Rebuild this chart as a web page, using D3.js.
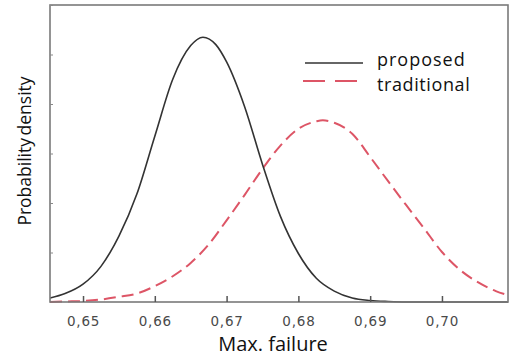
<!DOCTYPE html>
<html><head><meta charset="utf-8">
<script src="https://cdn.jsdelivr.net/npm/d3@7"></script>
<style>body{margin:0;background:#fff;}svg{display:block;}</style>
</head><body>
<svg id="chart" width="510" height="356"></svg>
<script>
const seriesNames = ["proposed", "traditional"];
const proposedX = [0.6454,0.6475,0.650,0.6525,0.655,0.6575,0.660,0.6625,0.665,0.6667,0.6685,0.670,0.6725,0.675,0.6775,0.680,0.6825,0.685,0.6875,0.690,0.6925,0.695,0.7092];
const proposedY = [0.8,1.7,3.6,7.2,13.3,21.8,33.5,45.0,51.8,53.5,52.0,48.5,39.5,27.8,17.3,9.8,4.8,2.2,0.8,0.3,0.1,0,0];
const traditionalX = [0.6454,0.6475,0.650,0.6525,0.655,0.6575,0.660,0.6625,0.665,0.6675,0.670,0.6725,0.675,0.6775,0.680,0.6825,0.6834,0.685,0.6875,0.690,0.6925,0.695,0.6975,0.700,0.7025,0.705,0.7075,0.7092];
const traditionalY = [0,0.1,0.2,0.5,1.05,1.7,3.2,5.2,7.9,11.6,16.5,21.6,26.9,31.6,35.0,36.5,36.7,36.2,34.0,29.3,24.4,19.6,14.9,10.1,6.5,4.0,2.2,1.4];
const xTicks = [0.65,0.66,0.67,0.68,0.69,0.70];
const xTickLabels = ["0,65","0,66","0,67","0,68","0,69","0,70"];
const yTicks = [10,20,30,40,50,60];
const xDomain = [0.6454, 0.7092];
const yDomain = [0, 60];

const svg = d3.select("#chart");
const L = 50, R = 508, T = 5, B = 302;
const x = d3.scaleLinear().domain(xDomain).range([L, R]);
const y = d3.scaleLinear().domain(yDomain).range([B, T]);

const line = d3.line().x(d => x(d[0])).y(d => y(d[1])).curve(d3.curveMonotoneX);
svg.append("clipPath").attr("id","clip").append("rect")
  .attr("x", L).attr("y", T).attr("width", R - L).attr("height", B - T + 2);

const g = svg.append("g").attr("clip-path","url(#clip)");
g.append("path").datum(traditionalX.map((v,i)=>[v,traditionalY[i]]))
  .attr("d", line).attr("fill","none").attr("stroke","#dd5566")
  .attr("stroke-width",2).attr("stroke-dasharray","12,6");
g.append("path").datum(proposedX.map((v,i)=>[v,proposedY[i]]))
  .attr("d", line).attr("fill","none").attr("stroke","#333")
  .attr("stroke-width",1.6);

// frame
svg.append("rect").attr("x", L).attr("y", T).attr("width", R - L).attr("height", B - T)
  .attr("fill","none").attr("stroke","#7a7a7a").attr("stroke-width",1.6);

// x axis
const xAxis = d3.axisBottom(x).tickValues(xTicks).tickSize(-6)
  .tickFormat((d,i) => xTickLabels[i]).tickPadding(14);
const xg = svg.append("g").attr("transform",`translate(0,${B})`).call(xAxis);
xg.select(".domain").remove();
xg.selectAll(".tick line").attr("stroke","#555").attr("stroke-width",1.5);
xg.selectAll(".tick text").attr("font-family","DejaVu Sans").attr("font-size",13.5)
  .attr("fill","#4a4a4a").attr("letter-spacing","0.8px");

// y axis
const yAxis = d3.axisLeft(y).tickValues(yTicks).tickSize(-3).tickFormat("");
const yg = svg.append("g").attr("transform",`translate(${L},0)`).call(yAxis);
yg.select(".domain").remove();
yg.selectAll(".tick line").attr("stroke","#888").attr("stroke-width",1);

// labels
svg.append("text").attr("x", 273).attr("y", 351).attr("text-anchor","middle")
  .attr("font-family","Open Sans").attr("font-size",20).attr("fill","#111").text("Max. failure");
svg.append("text").attr("transform","translate(31,151) rotate(-90)").attr("text-anchor","middle")
  .attr("font-family","Open Sans").attr("font-size",17.5).attr("fill","#111")
  .attr("word-spacing","-2px").text("Probability density");

// legend
const leg = svg.append("g");
leg.append("line").attr("x1",305).attr("x2",363).attr("y1",63).attr("y2",63)
  .attr("stroke","#333").attr("stroke-width",1.6);
leg.append("line").attr("x1",303).attr("x2",365).attr("y1",81).attr("y2",81)
  .attr("stroke","#dd5566").attr("stroke-width",2).attr("stroke-dasharray","22,10");
leg.append("text").attr("x",377).attr("y",66).attr("font-family","Open Sans").attr("font-size",18)
  .attr("letter-spacing","1px").attr("fill","#111").text(seriesNames[0]);
leg.append("text").attr("x",377).attr("y",91).attr("font-family","Open Sans").attr("font-size",18)
  .attr("letter-spacing","0.6px").attr("fill","#111").text(seriesNames[1]);
</script>
</body></html>
